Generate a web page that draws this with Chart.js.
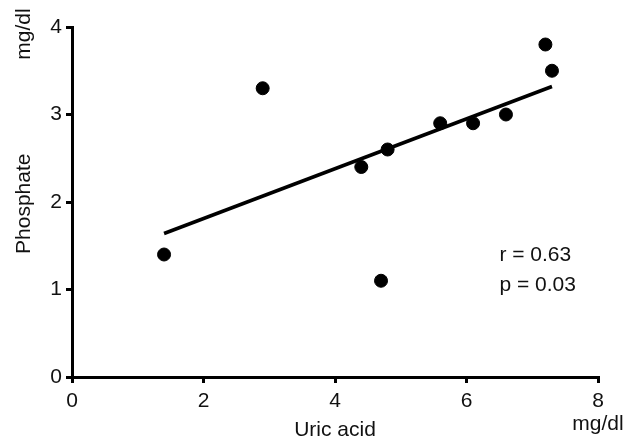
<!DOCTYPE html>
<html>
<head>
<meta charset="utf-8">
<script src="https://cdn.jsdelivr.net/npm/chart.js@4/dist/chart.umd.min.js"></script>
<style>
  html, body { margin: 0; padding: 0; background: #fff; }
  #wrap { width: 624px; height: 437px; position: relative; }
</style>
</head>
<body>
<div id="wrap"><canvas id="scatterChart"></canvas></div>
<script>
// data
const uricAcid = [1.4, 2.9, 4.4, 4.7, 4.8, 5.6, 6.1, 6.6, 7.2, 7.3];
const phosphate = [1.4, 3.3, 2.4, 1.1, 2.6, 2.9, 2.9, 3.0, 3.8, 3.5];
const fitX = [1.4, 7.3];
const fitY = [1.64, 3.32];
const xTicks = [0, 2, 4, 6, 8];
const yTicks = [0, 1, 2, 3, 4];
const statsText = ["r = 0.63", "p = 0.03"];

const FONT = "'Liberation Sans', Arial, Helvetica, sans-serif";

document.addEventListener("DOMContentLoaded", function () {
    const ctx = document.getElementById("scatterChart").getContext("2d");

    // extra labels: axis titles, units and the r/p values
    const labelsPlugin = {
        id: "extraLabels",
        afterDraw(chart) {
            const c = chart.ctx;
            const xs = chart.scales.x, ys = chart.scales.y;
            c.save();
            c.fillStyle = "#111";
            c.font = "21px " + FONT;
            c.textBaseline = "middle";

            c.textAlign = "center";
            c.fillText("Uric acid", xs.getPixelForValue(4), 430);
            c.fillText("mg/dl", xs.getPixelForValue(8), 424);

            c.textAlign = "left";
            c.fillText(statsText[0], xs.getPixelForValue(6.5), ys.getPixelForValue(1.39));
            c.fillText(statsText[1], xs.getPixelForValue(6.5), ys.getPixelForValue(1.05));

            c.save();
            c.translate(24, ys.getPixelForValue(1.98));
            c.rotate(-Math.PI / 2);
            c.textAlign = "center";
            c.fillText("Phosphate", 0, 0);
            c.restore();

            c.save();
            c.translate(24, ys.getPixelForValue(3.92));
            c.rotate(-Math.PI / 2);
            c.textAlign = "center";
            c.fillText("mg/dl", 0, 0);
            c.restore();
            c.restore();
        }
    };

    new Chart(ctx, {
        type: "scatter",
        data: {
            datasets: [
                {
                    label: "Regression",
                    type: "line",
                    data: fitX.map((x, i) => ({ x: x, y: fitY[i] })),
                    borderColor: "#000",
                    borderWidth: 3.5,
                    pointRadius: 0,
                    fill: false,
                    order: 2
                },
                {
                    label: "Patients",
                    data: uricAcid.map((x, i) => ({ x: x, y: phosphate[i] })),
                    backgroundColor: "#000",
                    borderColor: "#000",
                    borderWidth: 1,
                    pointRadius: 6.5,
                    order: 1
                }
            ]
        },
        options: {
            responsive: true,
            maintainAspectRatio: false,
            animation: false,
            layout: { padding: { top: 27, right: 26, left: 0, bottom: 0 } },
            plugins: {
                legend: { display: false },
                tooltip: { enabled: false }
            },
            scales: {
                x: {
                    type: "linear",
                    min: 0,
                    max: 8,
                    afterBuildTicks: (s) => { s.ticks = xTicks.map(v => ({ value: v })); },
                    afterFit: (s) => { s.height = 60; },
                    border: { display: true, color: "#000", width: 3 },
                    grid: { drawOnChartArea: false, drawTicks: true, tickLength: 6, tickColor: "#000", lineWidth: 3 },
                    ticks: { color: "#111", font: { family: FONT, size: 21 }, padding: 6, maxRotation: 0 }
                },
                y: {
                    type: "linear",
                    min: 0,
                    max: 4,
                    afterBuildTicks: (s) => { s.ticks = yTicks.map(v => ({ value: v })); },
                    afterFit: (s) => { s.width = 72; },
                    border: { display: true, color: "#000", width: 3 },
                    grid: { drawOnChartArea: false, drawTicks: true, tickLength: 6, tickColor: "#000", lineWidth: 3 },
                    ticks: { color: "#111", font: { family: FONT, size: 21 }, padding: 4 }
                }
            }
        },
        plugins: [labelsPlugin]
    });
});
</script>
</body>
</html>
